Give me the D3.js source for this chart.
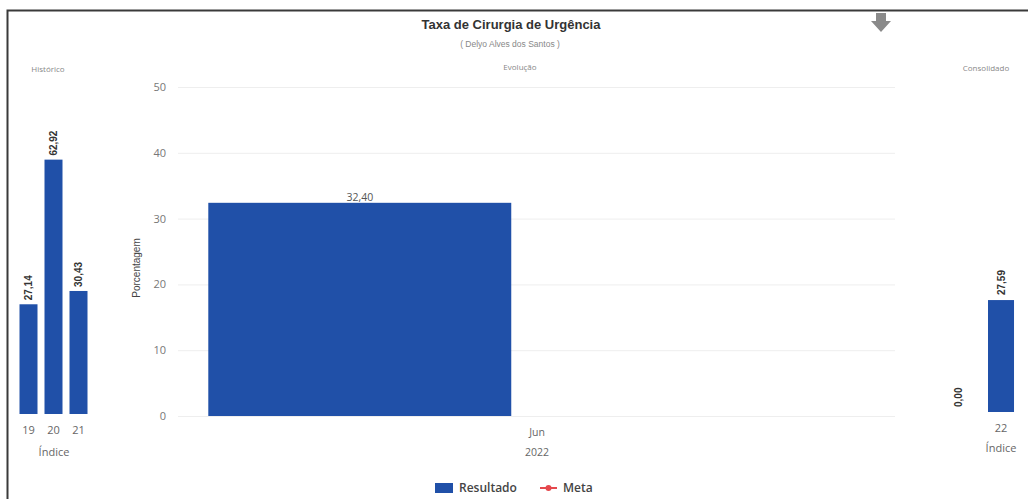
<!DOCTYPE html>
<html>
<head>
<meta charset="utf-8">
<script src="https://cdn.jsdelivr.net/npm/d3@7"></script>
<style>
  html, body { margin: 0; padding: 0; background: #fff; }
  svg { display: block; }
</style>
</head>
<body>
<svg id="chart" width="1028" height="499"></svg>
<script>
// ---- data ----
const histCategories = ["19", "20", "21"];
const histValues = [27.14, 62.92, 30.43];

const evoPeriods = ["2022-06-01"];
const evoValues = [32.40];

const consCategories = ["22"];
const consMeta = [0.00];
const consResultado = [27.59];

const evoTicks = [0, 10, 20, 30, 40, 50];
const legendItems = ["Resultado", "Meta"];

// ---- style ----
const BLUE = "#2050a8";
const RED = "#e5484d";
const fmt = v => d3.format(".2f")(v).replace(".", ",");
const FONT = "'Open Sans', 'Liberation Sans', sans-serif";
const FONT_B = "'Liberation Sans', Arial, sans-serif";

const svg = d3.select("#chart");

// frame (top and left border)
svg.append("path").attr("d", "M7.5,499 L7.5,10.5 L1028,10.5")
  .attr("fill", "none").attr("stroke", "#3a3a3a").attr("stroke-width", 2);

// title
svg.append("text").attr("x", 511).attr("y", 29).attr("text-anchor", "middle")
  .attr("font-family", FONT_B).attr("font-weight", "bold").attr("font-size", 13)
  .attr("fill", "#333").text("Taxa de Cirurgia de Urgência");
svg.append("text").attr("x", 510).attr("y", 47).attr("text-anchor", "middle")
  .attr("font-family", FONT_B).attr("font-size", 8.5)
  .attr("fill", "#888").text("( Delyo Alves dos Santos )");

// download arrow icon
svg.append("path")
  .attr("d", "M876,13 L886,13 L886,21 L891,21 L881,32 L871,21 L876,21 Z")
  .attr("fill", "#8a8a8a");

// panel titles
function panelTitle(x, y, t) {
  svg.append("text").attr("x", x).attr("y", y).attr("text-anchor", "middle")
    .attr("font-family", FONT).attr("font-size", 8).attr("fill", "#888").text(t);
}
panelTitle(48, 72, "Histórico");
panelTitle(520, 70, "Evolução");
panelTitle(986, 71, "Consolidado");

// ---- Histórico panel ----
const hx = d3.scaleBand().domain(histCategories).range([16, 91])
  .paddingInner(0.28).paddingOuter(0.14);
const hy = d3.scaleLinear().domain([0, 70]).range([414, 131]);
const hist = svg.append("g");
const hData = histCategories.map((c, i) => ({ c, v: histValues[i] }));
hist.selectAll("rect").data(hData).join("rect")
  .attr("x", d => hx(d.c)).attr("width", hx.bandwidth())
  .attr("y", d => hy(d.v)).attr("height", d => hy(0) - hy(d.v))
  .attr("fill", BLUE);
hist.selectAll("text.val").data(hData).join("text").attr("class", "val")
  .attr("transform", d => `translate(${hx(d.c) + hx.bandwidth() / 2},${hy(d.v) - 4}) rotate(-90)`)
  .attr("dy", "0.35em").attr("text-anchor", "start")
  .attr("font-family", FONT_B).attr("font-weight", "bold").attr("font-size", 10)
  .attr("fill", "#333").text(d => fmt(d.v));
const hAxis = hist.append("g").attr("transform", "translate(0,418)")
  .call(d3.axisBottom(hx).tickSize(0).tickPadding(8));
hAxis.select(".domain").remove();
hAxis.selectAll("text").attr("font-family", FONT).attr("font-size", 11).attr("fill", "#666");
hist.append("text").attr("x", hx.range()[0] + (hx.range()[1] - hx.range()[0]) / 2 + 0.5).attr("y", 456)
  .attr("text-anchor", "middle").attr("font-family", FONT).attr("font-size", 11)
  .attr("fill", "#666").text("Índice");

// ---- Evolução panel ----
const parse = d3.timeParse("%Y-%m-%d");
const ex = d3.scaleTime()
  .domain([parse("2022-03-22"), parse("2022-08-11")]).range([178, 895]);
const ey = d3.scaleLinear().domain([0, 50]).range([416, 87]);
const evo = svg.append("g");
// grid
evo.selectAll("line.grid").data(evoTicks).join("line").attr("class", "grid")
  .attr("x1", ex.range()[0]).attr("x2", ex.range()[1])
  .attr("y1", d => ey(d) + 0.5).attr("y2", d => ey(d) + 0.5)
  .attr("stroke", "#eeeeee").attr("stroke-width", 1);
// y axis
const eyAxis = evo.append("g").attr("transform", `translate(${ex.range()[0] - 12},0)`)
  .call(d3.axisLeft(ey).tickValues(evoTicks).tickSize(0).tickPadding(0).tickFormat(d3.format("d")));
eyAxis.select(".domain").remove();
eyAxis.selectAll("text").attr("font-family", FONT).attr("font-size", 11).attr("fill", "#777");
evo.append("text").attr("transform", "translate(140,268) rotate(-90)")
  .attr("text-anchor", "middle").attr("font-family", FONT_B).attr("font-size", 10)
  .attr("fill", "#444").text("Porcentagem");
// bars
const eData = evoPeriods.map((p, i) => ({ d: parse(p), v: evoValues[i] }));
evo.selectAll("rect").data(eData).join("rect")
  .attr("x", d => ex(d3.timeDay.offset(d.d, -65)))
  .attr("width", d => ex(d3.timeDay.offset(d.d, -5)) - ex(d3.timeDay.offset(d.d, -65)))
  .attr("y", d => ey(d.v)).attr("height", d => ey(0) - ey(d.v))
  .attr("fill", BLUE);
evo.selectAll("text.val").data(eData).join("text").attr("class", "val")
  .attr("x", d => (ex(d3.timeDay.offset(d.d, -65)) + ex(d3.timeDay.offset(d.d, -5))) / 2)
  .attr("y", d => ey(d.v) - 2)
  .attr("text-anchor", "middle").attr("font-family", FONT).attr("font-size", 10.5)
  .attr("fill", "#555").text(d => fmt(d.v));
// x axis
const exAxis = evo.append("g").attr("transform", "translate(0,426)")
  .call(d3.axisBottom(ex).tickValues(eData.map(d => d.d)).tickSize(0).tickFormat(() => ""));
exAxis.select(".domain").remove();
exAxis.selectAll(".tick text").each(function (d) {
  const t = d3.select(this).attr("font-family", FONT).attr("font-size", 10.5).attr("fill", "#666");
  t.append("tspan").attr("x", 0).attr("dy", "0.7em").text(d3.timeFormat("%b")(d));
  t.append("tspan").attr("x", 0).attr("dy", "1.85em").text(d3.timeFormat("%Y")(d));
});

// ---- Consolidado panel ----
const cx0 = d3.scaleBand().domain(consCategories).range([938, 1022]).padding(0);
const cx1 = d3.scaleBand().domain(legendItems.slice().reverse()).range([0, cx0.bandwidth()])
  .paddingInner(0.381).paddingOuter(0.19);
const cy = d3.scaleLinear().domain([0, 70]).range([412, 128]);
const cons = svg.append("g");
const cData = [];
consCategories.forEach((c, i) => {
  cData.push({ c, s: "Meta", v: consMeta[i] });
  cData.push({ c, s: "Resultado", v: consResultado[i] });
});
cons.selectAll("rect").data(cData.filter(d => d.s === "Resultado")).join("rect")
  .attr("x", d => cx0(d.c) + cx1(d.s)).attr("width", cx1.bandwidth())
  .attr("y", d => cy(d.v)).attr("height", d => cy(0) - cy(d.v))
  .attr("fill", BLUE);
cons.selectAll("text.val").data(cData).join("text").attr("class", "val")
  .attr("transform", d => `translate(${cx0(d.c) + cx1(d.s) + cx1.bandwidth() / 2},${cy(d.v) - 5}) rotate(-90)`)
  .attr("dy", "0.35em").attr("text-anchor", "start")
  .attr("font-family", FONT_B).attr("font-weight", "bold").attr("font-size", 10)
  .attr("fill", "#333").text(d => fmt(d.v));
const cOff = cx1("Resultado") + cx1.bandwidth() / 2 - cx0.bandwidth() / 2;
const cAxis = cons.append("g").attr("transform", `translate(${cOff},416)`)
  .call(d3.axisBottom(cx0).tickSize(0).tickPadding(8));
cAxis.select(".domain").remove();
cAxis.selectAll("text").attr("font-family", FONT).attr("font-size", 11).attr("fill", "#666");
cons.append("text").attr("x", cx0(consCategories[0]) + cx0.bandwidth() / 2 + cOff).attr("y", 452)
  .attr("text-anchor", "middle").attr("font-family", FONT).attr("font-size", 11)
  .attr("fill", "#666").text("Índice");

// ---- legend ----
const leg = svg.append("g").attr("transform", "translate(435,488)");
leg.append("rect").attr("x", 0).attr("y", -5).attr("width", 18).attr("height", 10).attr("fill", BLUE);
leg.append("text").attr("x", 24).attr("y", 0).attr("dy", "0.35em")
  .attr("font-family", FONT).attr("font-weight", 600).attr("font-size", 12)
  .attr("fill", "#444").text(legendItems[0]);
leg.append("line").attr("x1", 105).attr("x2", 122).attr("y1", 0).attr("y2", 0)
  .attr("stroke", RED).attr("stroke-width", 2);
leg.append("circle").attr("cx", 113.5).attr("cy", 0).attr("r", 3).attr("fill", RED);
leg.append("text").attr("x", 128).attr("y", 0).attr("dy", "0.35em")
  .attr("font-family", FONT).attr("font-weight", 600).attr("font-size", 12)
  .attr("fill", "#444").text(legendItems[1]);
</script>
</body>
</html>
